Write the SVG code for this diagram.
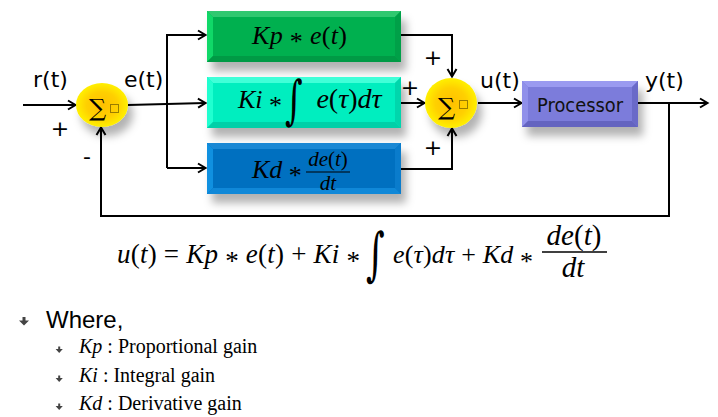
<svg xmlns="http://www.w3.org/2000/svg" width="718" height="417" viewBox="0 0 718 417">
<defs>
<style>
.lbl{font-family:"DejaVu Sans",Verdana,sans-serif;font-size:22px;fill:#000}
.pm{font-family:"DejaVu Sans",sans-serif;font-size:22px;fill:#000;text-anchor:middle}
.m{font-family:"Liberation Serif","Times New Roman",serif;fill:#000}
.i{font-style:italic}
.n{font-style:normal}
.mid{text-anchor:middle}
.int{font-family:"DejaVu Serif",serif;fill:#000}
.c{fill:none;stroke:#000;stroke-width:2}
.sig{font-family:"DejaVu Serif",serif;font-size:24px;fill:#000}
.ph{fill:none;stroke:#000;stroke-width:0.8;stroke-dasharray:1,1}
</style>
<marker id="ar" markerWidth="12" markerHeight="12" refX="9" refY="6" orient="auto" markerUnits="userSpaceOnUse">
<path d="M2,1.5 L9.5,6 L2,10.5" fill="none" stroke="#000" stroke-width="2"/>
</marker>
<filter id="sh" x="-20%" y="-30%" width="150%" height="180%">
<feDropShadow dx="5" dy="9" stdDeviation="4" flood-color="#000" flood-opacity="0.3"/>
</filter>
<radialGradient id="yg" cx="0.5" cy="0.5" r="0.5">
<stop offset="0" stop-color="#ffbf00"/>
<stop offset="0.6" stop-color="#ffd000"/>
<stop offset="1" stop-color="#fff000"/>
</radialGradient>
</defs>
<rect width="718" height="417" fill="#fff"/>

<g id="connectors">
<path class="c" d="M23,105 H75" marker-end="url(#ar)"/>
<path class="c" d="M128,105 L205,103" marker-end="url(#ar)"/>
<path class="c" d="M167,168 V35 H205" marker-end="url(#ar)"/>
<path class="c" d="M167,168 H205" marker-end="url(#ar)"/>
<path class="c" d="M401,35 H452 V76" marker-end="url(#ar)"/>
<path class="c" d="M401,103 H424" marker-end="url(#ar)"/>
<path class="c" d="M401,169 H452 V129" marker-end="url(#ar)"/>
<path class="c" d="M478,103 H521" marker-end="url(#ar)"/>
<path class="c" d="M638,103 H707" marker-end="url(#ar)"/>
<path class="c" d="M669,103 V216 H101 V128" marker-end="url(#ar)"/>
</g>

<g id="labels">
<text class="lbl" x="33" y="87">r(t)</text>
<text class="lbl" x="124" y="87">e(t)</text>
<text class="lbl" x="480" y="88">u(t)</text>
<text class="lbl" x="645" y="88">y(t)</text>
<text class="pm" x="60" y="136">+</text>
<text class="pm" x="87" y="164">-</text>
<text class="pm" x="433" y="65">+</text>
<text class="pm" x="410" y="95">+</text>
<text class="pm" x="433" y="155">+</text>
</g>

<g id="sum1">
<ellipse cx="102" cy="105" rx="26" ry="22" fill="url(#yg)" filter="url(#sh)"/>
<text class="sig" x="89" y="116">∑</text>
<rect class="ph" x="110.5" y="104.5" width="8" height="8"/>
</g>

<g id="sum2">
<ellipse cx="451" cy="103" rx="26" ry="25" fill="url(#yg)" filter="url(#sh)"/>
<text class="sig" x="438" y="115">∑</text>
<rect class="ph" x="459.5" y="100.5" width="8" height="8"/>
</g>

<g id="kp">
<g filter="url(#sh)">
<rect x="207" y="11" width="194" height="51" fill="#00b050"/>
</g>
<polygon points="207,11 401,11 395,17 213,17" fill="#30c870"/>
<polygon points="207,11 213,17 213,56 207,62" fill="#10d868"/>
<polygon points="401,11 401,62 395,56 395,17" fill="#00a048"/>
<polygon points="207,62 213,56 395,56 401,62" fill="#009a45"/>
<text class="m i" x="252" y="44" font-size="26" textLength="95" lengthAdjust="spacing">Kp <tspan class="n" dy="6">*</tspan><tspan dy="-6"> e</tspan><tspan class="n">(</tspan>t<tspan class="n">)</tspan></text>
</g>

<g id="ki">
<g filter="url(#sh)">
<rect x="207" y="77" width="194" height="51" fill="#00eebf"/>
</g>
<polygon points="207,77 401,77 395,83 213,83" fill="#40ffd8"/>
<polygon points="207,77 213,83 213,122 207,128" fill="#20ffd0"/>
<polygon points="401,77 401,128 395,122 395,83" fill="#00d6ac"/>
<polygon points="207,128 213,122 395,122 401,128" fill="#00d0a8"/>
<text class="m i" x="238" y="108" font-size="26">Ki <tspan class="n" dy="6">*</tspan></text>
<text class="int" x="0" y="0" font-size="34" transform="translate(285,118) scale(1,1.55)">∫</text>
<text class="m i mid" x="349" y="108" font-size="28">e<tspan class="n">(</tspan>τ<tspan class="n">)</tspan>dτ</text>
</g>

<g id="kd">
<g filter="url(#sh)">
<rect x="207" y="143" width="194" height="51" fill="#0070c0"/>
</g>
<polygon points="207,143 401,143 395,149 213,149" fill="#1a88d4"/>
<polygon points="207,143 213,149 213,188 207,194" fill="#1090e0"/>
<polygon points="401,143 401,194 395,188 395,149" fill="#0a7ccc"/>
<polygon points="207,194 213,188 395,188 401,194" fill="#1088d8"/>
<text class="m i" x="252" y="178" font-size="26">Kd <tspan class="n" dy="6">*</tspan></text>
<text class="m i mid" x="328" y="166" font-size="21">de<tspan class="n">(</tspan>t<tspan class="n">)</tspan></text>
<line x1="306" y1="172" x2="350" y2="172" stroke="#000" stroke-width="1.2"/>
<text class="m i mid" x="328" y="190" font-size="21">dt</text>
</g>

<g id="processor">
<g filter="url(#sh)">
<rect x="522" y="81" width="116" height="46" fill="#7b7bdb"/>
</g>
<polygon points="522,81 638,81 632,87 528,87" fill="#9a9af0"/>
<polygon points="522,81 528,87 528,121 522,127" fill="#9090ea"/>
<polygon points="638,81 638,127 632,121 632,87" fill="#6a6ac8"/>
<polygon points="522,127 528,121 632,121 638,127" fill="#6464c0"/>
<text x="537" y="112" font-family="DejaVu Sans,Verdana,sans-serif" font-size="20" textLength="86" lengthAdjust="spacingAndGlyphs" fill="#111">Processor</text>
</g>

<g id="equation">
<text class="m" x="117" y="263" font-size="27" textLength="243" lengthAdjust="spacing"><tspan class="i">u</tspan>(<tspan class="i">t</tspan>) = <tspan class="i">Kp</tspan> <tspan dy="7">*</tspan><tspan dy="-7"> </tspan><tspan class="i">e</tspan>(<tspan class="i">t</tspan>) + <tspan class="i">Ki</tspan> <tspan dy="7">*</tspan></text>
<text class="int" x="0" y="0" font-size="36" transform="translate(366,274) scale(1,1.6)">∫</text>
<text class="m" x="393" y="263" font-size="26" textLength="140" lengthAdjust="spacing"><tspan class="i">e</tspan>(<tspan class="i">τ</tspan>)<tspan class="i">dτ</tspan> + <tspan class="i">Kd</tspan> <tspan dy="7">*</tspan></text>
<text class="m i mid" x="574" y="245" font-size="29">de<tspan class="n">(</tspan>t<tspan class="n">)</tspan></text>
<line x1="542" y1="252" x2="607" y2="252" stroke="#000" stroke-width="1.5"/>
<text class="m i mid" x="573" y="277" font-size="29">dt</text>
</g>

<g id="legend">
<path d="M22.5,317 h3 v3.5 h3.5 l-5,5 l-5,-5 h3.5 z" fill="#444"/>
<text x="46" y="328" font-family="Liberation Sans,Arial,sans-serif" font-size="24" fill="#000">Where,</text>
<path d="M58.2,346.5 h2 v2.6 h2.6 l-3.6,3.8 l-3.6,-3.8 h2.6 z" fill="#444"/>
<path d="M58.2,375.5 h2 v2.6 h2.6 l-3.6,3.8 l-3.6,-3.8 h2.6 z" fill="#444"/>
<path d="M58.2,403.5 h2 v2.6 h2.6 l-3.6,3.8 l-3.6,-3.8 h2.6 z" fill="#444"/>
<text class="m" x="79" y="353" font-size="20"><tspan class="i">Kp</tspan> : Proportional gain</text>
<text class="m" x="79" y="382" font-size="20"><tspan class="i">Ki</tspan> : Integral gain</text>
<text class="m" x="79" y="410" font-size="20"><tspan class="i">Kd</tspan> : Derivative gain</text>
</g>
</svg>
